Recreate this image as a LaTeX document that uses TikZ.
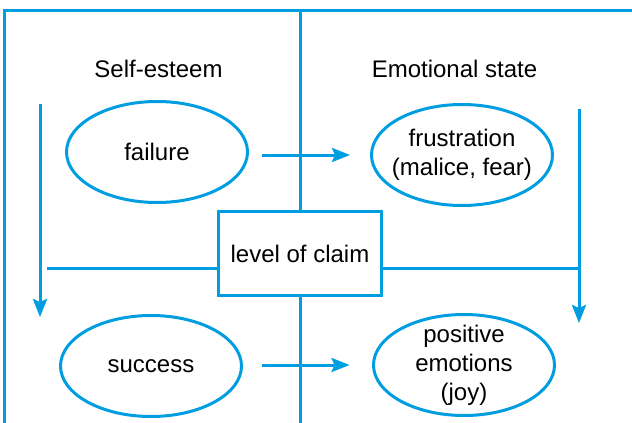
\documentclass[tikz,border=0pt]{standalone}
\usepackage{fontspec}
\setmainfont{Liberation Sans}
\usepackage{tikz}
\usetikzlibrary{positioning,shapes.geometric,arrows.meta}

\definecolor{lineblue}{RGB}{0,158,224}

\begin{document}
\begin{tikzpicture}[%
  x=0.5pt,
  y=-0.5pt,
  >={Stealth[length=9pt,width=7pt,inset=1.5pt]},
  every node/.style={font=\fontsize{12}{14.5}\selectfont},
  ln/.style={
    draw=lineblue,
    line width=1.5pt,},
  pil/.style={
    ln,
    ->,},
  oval/.style={
    ellipse,
    ln,
    align=center,
    inner sep=-4pt,
    minimum width=90.5pt,
    minimum height=50.5pt,},
  claimbox/.style={
    rectangle,
    ln,
    inner sep=0pt,
    minimum width=81.5pt,
    minimum height=42pt,}
  ]
  \useasboundingbox (0,0) rectangle (632,423);
  %% Nodes
  \node[anchor=base] (esteem) at (158.5,77) {Self-esteem};
  \node[anchor=base] (state) at (454.5,77) {Emotional state};
  \node[oval] (failure) at (157,152) {failure};
  \node[oval] (frust) at (462,155) {frustration\\(malice, fear)};
  \node[claimbox] (claim) at (300,253.5) {level of claim};
  \node[oval] (success) at (151,366) {success};
  \node[oval] (positive) at (464,365) {positive\\emotions\\(joy)};
  %% Coordinates
  \coordinate (ctop) at (300,10);
  \coordinate (cbot) at (300,423);
  \coordinate (fright) at (632,10);
  \coordinate (fcorner) at (4,10);
  \coordinate (fbot) at (4,423);
  \coordinate (ltop) at (40,104);
  \coordinate (lbot) at (40,317);
  \coordinate (rtop) at (579,109);
  \coordinate (rbot) at (579,323);
  \coordinate (hl) at (47,268);
  \coordinate (hr) at (579,268);
  %% Edges
  \draw[ln] (fright) -- (fcorner) -- (fbot);
  \draw[ln] (ctop) -- (claim.north);
  \draw[ln] (claim.south) -- (cbot);
  \draw[ln] (hl) -- (hl -| claim.west);
  \draw[ln] (claim.east |- hr) -- (hr);
  \draw[pil] (ltop) -- (lbot);
  \draw[pil] (rtop) -- (rbot);
  \draw[pil, shorten <=6.5pt, shorten >=10pt] (failure.east |- frust.west) -- (frust.west);
  \draw[pil, shorten <=9.25pt, shorten >=11.25pt] (success.east |- positive.west) -- (positive.west);
\end{tikzpicture}
\end{document}
